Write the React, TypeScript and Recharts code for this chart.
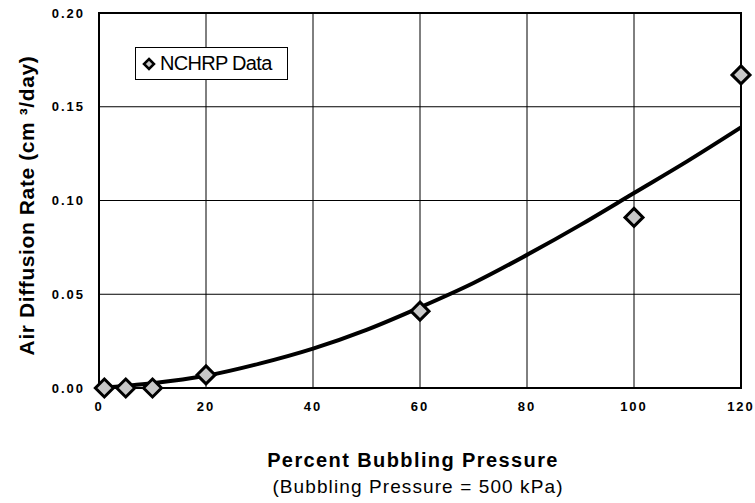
import {
  ComposedChart,
  Line,
  Scatter,
  XAxis,
  YAxis,
  CartesianGrid,
  ReferenceArea,
} from "recharts";

// measured points (percent bubbling pressure, cm3/day)
const dataX = [1, 5, 10, 20, 60, 100, 120];
const dataY = [0.0, 0.0, 0.0, 0.007, 0.041, 0.091, 0.167];

// fitted curve
const curveX = [0, 10, 20, 30, 40, 50, 60, 70, 80, 90, 100, 110, 120];
const curveY = [0, 0.0025, 0.0065, 0.013, 0.021, 0.031, 0.043, 0.056, 0.071, 0.087, 0.104, 0.121, 0.139];

const xTicks = [0, 20, 40, 60, 80, 100, 120];
const yTicks = [0, 0.05, 0.1, 0.15, 0.2];

const points = dataX.map((x, i) => ({ x, y: dataY[i] }));
const curve = curveX.map((x, i) => ({ x, y: curveY[i] }));

const FONT = '"Liberation Sans", Arial, sans-serif';

const Diamond = (props: any) => {
  const { cx, cy } = props;
  const r = 9;
  return (
    <path
      d={`M${cx},${cy - r} L${cx + r},${cy} L${cx},${cy + r} L${cx - r},${cy} Z`}
      fill="#c8c8c8"
      stroke="#000"
      strokeWidth={3}
    />
  );
};

const LegendBox = () => (
  <div
    style={{
      position: "absolute",
      left: 135,
      top: 47,
      width: 151,
      height: 31,
      border: "1px solid #000",
      background: "#fff",
      display: "flex",
      alignItems: "center",
      fontFamily: FONT,
      fontSize: 20,
      letterSpacing: -0.7,
      color: "#000",
    }}
  >
    <svg width={22} height={20} style={{ marginLeft: 2 }}>
      <path d="M11,5 L16,10 L11,15 L6,10 Z" fill="#c8c8c8" stroke="#000" strokeWidth={2.5} />
    </svg>
    <span>NCHRP Data</span>
  </div>
);

const XTitle = (props: any) => {
  const vb = props.viewBox || {};
  const cx = vb.x + vb.width / 2 - 7;
  return (
    <g fontFamily={FONT} fill="#000">
      <text x={cx} y={vb.y + 79} textAnchor="middle" fontSize={20} fontWeight="bold" letterSpacing={1.4}>
        Percent Bubbling Pressure
      </text>
      <text x={cx + 5} y={vb.y + 105} textAnchor="middle" fontSize={19} letterSpacing={1.1}>
        (Bubbling Pressure = 500 kPa)
      </text>
    </g>
  );
};

const YTitle = (props: any) => {
  const vb = props.viewBox || {};
  const x = 34;
  const y = vb.y + vb.height / 2 + 5;
  return (
    <text
      x={x}
      y={y}
      transform={`rotate(-90, ${x}, ${y})`}
      textAnchor="middle"
      fontFamily={FONT}
      fontSize={21}
      fontWeight="bold"
      letterSpacing={0.6}
      fill="#000"
    >
      Air Diffusion Rate (cm ³/day)
    </text>
  );
};

const tickStyle = { fontSize: 13, fontWeight: "bold", fill: "#000", fontFamily: FONT, letterSpacing: 2 };

export default function App() {
  return (
    <div style={{ position: "absolute", left: 0, top: 0, width: 755, height: 503, background: "#fff" }}>
      <ComposedChart width={755} height={503} margin={{ top: 13, right: 14, left: 39, bottom: 85 }}>
        <CartesianGrid stroke="#000" strokeWidth={1} />
        <XAxis
          dataKey="x"
          type="number"
          domain={[0, 120]}
          ticks={xTicks}
          allowDuplicatedCategory={false}
          tickSize={0}
          tickMargin={14}
          tick={tickStyle}
          axisLine={{ stroke: "#000", strokeWidth: 2 }}
          height={30}
          label={<XTitle />}
        />
        <YAxis
          dataKey="y"
          type="number"
          domain={[0, 0.2]}
          ticks={yTicks}
          tickFormatter={(v: number) => v.toFixed(2)}
          tickSize={0}
          tickMargin={14}
          tick={tickStyle}
          axisLine={{ stroke: "#000", strokeWidth: 2 }}
          width={60}
          label={<YTitle />}
        />
        <ReferenceArea x1={0} x2={120} y1={0} y2={0.2} fill="none" stroke="#000" strokeWidth={2} />
        <Line
          data={curve}
          dataKey="y"
          type="monotone"
          stroke="#000"
          strokeWidth={4}
          dot={false}
          isAnimationActive={false}
          legendType="none"
        />
        <Scatter data={points} dataKey="y" shape={<Diamond />} isAnimationActive={false} name="NCHRP Data" />
      </ComposedChart>
      <LegendBox />
    </div>
  );
}
